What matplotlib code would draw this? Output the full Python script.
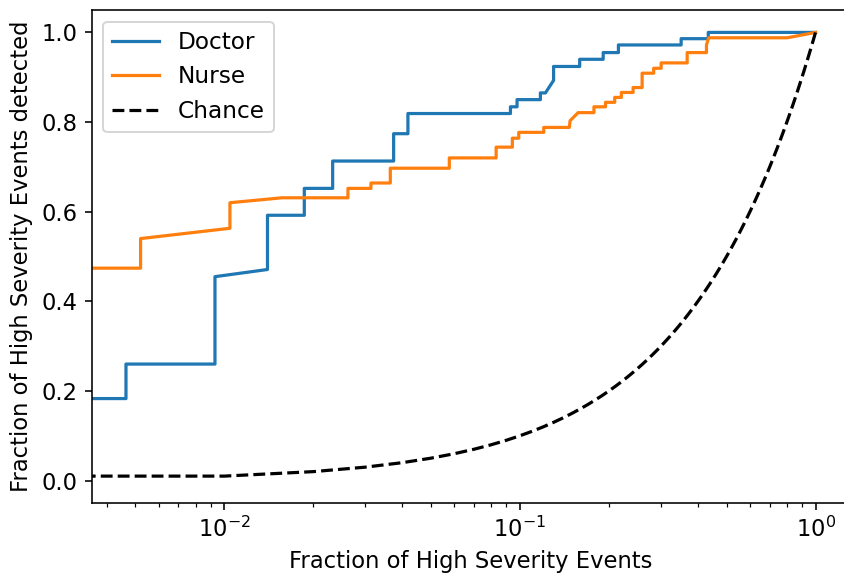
import numpy as np
import matplotlib
matplotlib.use("Agg")
import matplotlib.pyplot as plt

# Doctor curve vertices (fraction of events, fraction detected)
doctor_x = [0.0, 0.00465, 0.00465, 0.0093, 0.0093, 0.0140, 0.0140, 0.01865, 0.01865,
            0.02326, 0.02326, 0.0374, 0.0374, 0.0418, 0.0418, 0.0929, 0.0929, 0.0978,
            0.0978, 0.1173, 0.1173, 0.122, 0.130, 0.130, 0.1593, 0.1593, 0.1913,
            0.1913, 0.2154, 0.2154, 0.3511, 0.3511, 0.4337, 0.4337, 1.0]
doctor_y = [0.183, 0.183, 0.260, 0.260, 0.455, 0.471, 0.592, 0.592, 0.652,
            0.652, 0.713, 0.713, 0.774, 0.774, 0.819, 0.819, 0.834, 0.834,
            0.850, 0.850, 0.865, 0.865, 0.893, 0.924, 0.924, 0.940, 0.940,
            0.955, 0.955, 0.972, 0.972, 0.986, 0.986, 1.0, 1.0]

# Nurse curve vertices
nurse_x = [0.0, 0.00521, 0.00521, 0.01045, 0.01045, 0.01568, 0.0262, 0.0262,
           0.03135, 0.03135, 0.03644, 0.03644, 0.0577, 0.0577, 0.0831, 0.0831,
           0.0943, 0.0943, 0.0991, 0.0991, 0.1204, 0.1204, 0.147, 0.1478, 0.1574,
           0.178, 0.178, 0.1948, 0.1948, 0.2093, 0.2093, 0.2204, 0.2204, 0.2415,
           0.2415, 0.2591, 0.2591, 0.2835, 0.2835, 0.3005, 0.3005, 0.368, 0.368,
           0.4276, 0.4276, 0.435, 0.802, 1.0]
nurse_y = [0.474, 0.474, 0.540, 0.563, 0.620, 0.631, 0.631, 0.652,
           0.652, 0.664, 0.664, 0.697, 0.697, 0.720, 0.720, 0.744,
           0.744, 0.764, 0.764, 0.777, 0.777, 0.788, 0.788, 0.803, 0.821,
           0.821, 0.834, 0.834, 0.844, 0.844, 0.855, 0.855, 0.866, 0.866,
           0.877, 0.877, 0.909, 0.909, 0.920, 0.920, 0.932, 0.932, 0.955,
           0.955, 0.972, 0.988, 0.988, 1.0]

# Chance line: detected fraction equals fraction of events
chance_x = np.linspace(0.0, 1.0, 101)
chance_y = chance_x.copy()

plt.rcParams["font.size"] = 11.3

DPI = 144
fig = plt.figure(figsize=(844 / DPI, 573 / DPI), dpi=DPI)
ax = fig.add_axes([91.5 / 844, (573 - 503) / 573, (850 - 91.5) / 844, (503 - 10) / 573])
ax.set_xscale("log")
ax.plot(doctor_x, doctor_y, color="#1f77b4", lw=1.6, label="Doctor")
ax.plot(nurse_x, nurse_y, color="#ff7f0e", lw=1.6, label="Nurse")
ax.plot(chance_x, chance_y, "k--", lw=1.6, label="Chance")
ax.set_xlabel("Fraction of High Severity Events")
ax.set_ylabel("Fraction of High Severity Events detected")
ax.set_yticks([0.0, 0.2, 0.4, 0.6, 0.8, 1.0])
ax.legend(loc="upper left", fontsize=11.6)
fig.savefig("out.png", dpi=DPI)
